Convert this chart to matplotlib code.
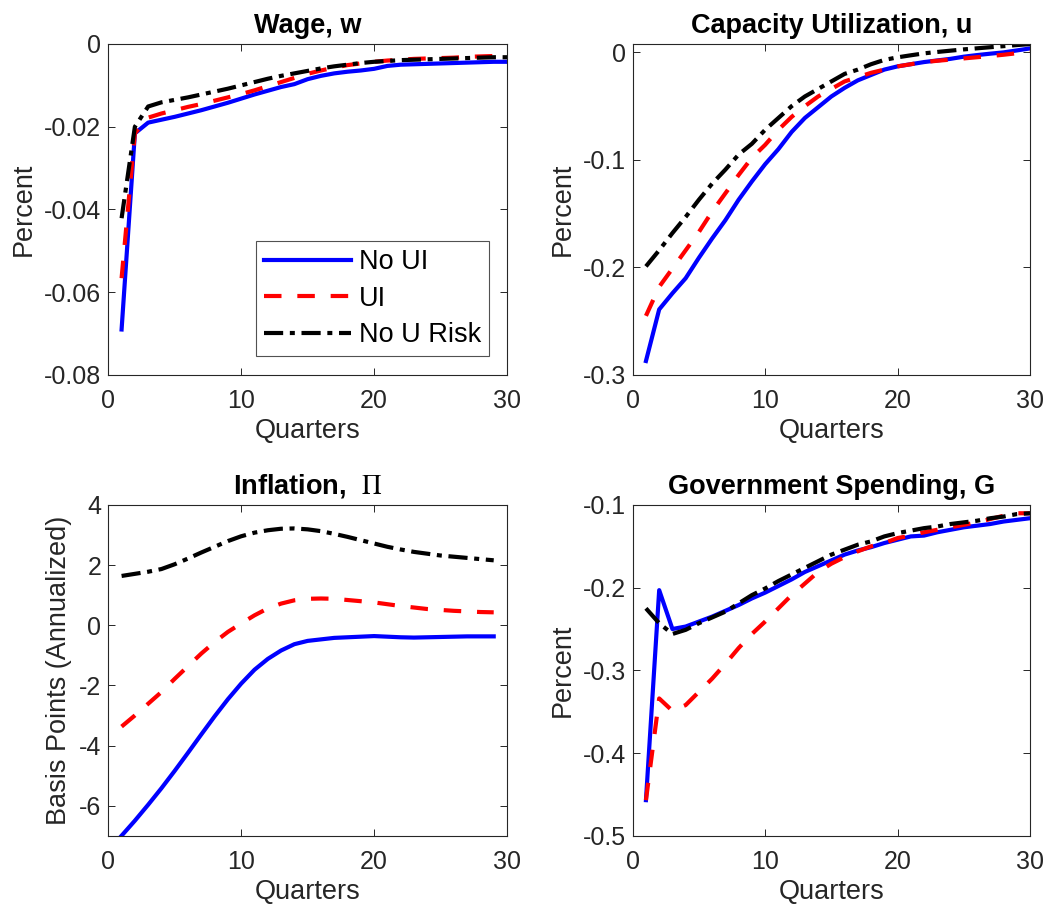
import matplotlib
matplotlib.use("Agg")
import matplotlib.pyplot as plt
from matplotlib.ticker import FuncFormatter

plt.rcParams['font.family'] = ['Liberation Sans', 'DejaVu Sans']
plt.rcParams['axes.unicode_minus'] = False
plt.rcParams['mathtext.fontset'] = 'stix'

quarters30 = list(range(1, 31))
quarters29 = list(range(1, 30))

# Wage, w
wage_no_ui = [-0.0690, -0.0216, -0.0190, -0.0183, -0.0176, -0.0168, -0.0160, -0.0151, -0.0142, -0.0132,
              -0.0122, -0.0113, -0.0104, -0.0097, -0.0085, -0.0077, -0.0071, -0.0067, -0.0064, -0.0060,
              -0.0053, -0.0050, -0.0049, -0.0048, -0.0047, -0.0046, -0.0045, -0.0044, -0.0043, -0.0043]
wage_ui = [-0.0566, -0.0216, -0.0178, -0.0168, -0.0160, -0.0152, -0.0145, -0.0137, -0.0129, -0.0121,
           -0.0112, -0.0102, -0.0092, -0.0082, -0.0072, -0.0064, -0.0057, -0.0051, -0.0047, -0.0043,
           -0.0040, -0.0038, -0.0036, -0.0035, -0.0034, -0.0033, -0.0031, -0.0030, -0.0029, -0.0028]
wage_no_risk = [-0.0421, -0.0200, -0.0151, -0.0141, -0.0135, -0.0129, -0.0122, -0.0115, -0.0108, -0.0100,
                -0.0092, -0.0084, -0.0077, -0.0071, -0.0065, -0.0059, -0.0054, -0.0050, -0.0046, -0.0043,
                -0.0041, -0.0039, -0.0038, -0.0037, -0.0036, -0.0035, -0.0034, -0.0033, -0.0032, -0.0032]

# Capacity Utilization, u
cap_no_ui = [-0.287, -0.239, -0.224, -0.210, -0.191, -0.173, -0.156, -0.137, -0.120, -0.104,
             -0.090, -0.074, -0.061, -0.051, -0.041, -0.033, -0.026, -0.021, -0.016, -0.013,
             -0.011, -0.009, -0.0075, -0.006, -0.004, -0.0025, -0.0012, 0.0, 0.0018, 0.0037]
cap_ui = [-0.245, -0.218, -0.201, -0.184, -0.167, -0.148, -0.131, -0.114, -0.098, -0.086,
          -0.072, -0.060, -0.050, -0.041, -0.034, -0.027, -0.023, -0.019, -0.016, -0.013,
          -0.011, -0.009, -0.0078, -0.0067, -0.0056, -0.0045, -0.0034, -0.0022, -0.0008, 0.0006]
cap_no_risk = [-0.199, -0.184, -0.168, -0.153, -0.137, -0.122, -0.109, -0.095, -0.085, -0.072,
               -0.061, -0.050, -0.041, -0.034, -0.027, -0.020, -0.016, -0.011, -0.007, -0.0046,
               -0.0027, -0.0009, 0.0004, 0.0016, 0.0028, 0.0038, 0.0048, 0.0058, 0.0068, 0.0077]

# Inflation, Pi (basis points, annualized)
infl_no_ui = [-7.0, -6.5, -5.97, -5.42, -4.84, -4.24, -3.63, -3.03, -2.46, -1.94,
              -1.48, -1.12, -0.84, -0.63, -0.52, -0.47, -0.42, -0.40, -0.38, -0.36,
              -0.38, -0.40, -0.41, -0.40, -0.39, -0.38, -0.37, -0.37, -0.37]
infl_ui = [-3.37, -3.0, -2.61, -2.22, -1.78, -1.36, -0.94, -0.56, -0.22, 0.06,
           0.33, 0.56, 0.72, 0.83, 0.88, 0.89, 0.88, 0.84, 0.80, 0.76,
           0.70, 0.64, 0.59, 0.54, 0.51, 0.48, 0.46, 0.44, 0.43]
infl_no_risk = [1.64, 1.71, 1.78, 1.87, 2.03, 2.22, 2.42, 2.61, 2.80, 2.96,
                3.08, 3.16, 3.21, 3.22, 3.19, 3.13, 3.04, 2.94, 2.83, 2.72,
                2.61, 2.52, 2.44, 2.38, 2.32, 2.28, 2.24, 2.20, 2.16]

# Government Spending, G
gov_no_ui = [-0.457, -0.203, -0.250, -0.247, -0.241, -0.235, -0.228, -0.221, -0.213, -0.206,
             -0.198, -0.190, -0.181, -0.174, -0.167, -0.160, -0.155, -0.151, -0.146, -0.142,
             -0.138, -0.137, -0.133, -0.130, -0.127, -0.125, -0.123, -0.120, -0.118, -0.116]
gov_ui = [-0.457, -0.334, -0.349, -0.342, -0.326, -0.310, -0.292, -0.273, -0.256, -0.241,
          -0.225, -0.209, -0.195, -0.181, -0.171, -0.163, -0.156, -0.150, -0.146, -0.140,
          -0.137, -0.133, -0.130, -0.127, -0.124, -0.121, -0.117, -0.113, -0.110, -0.110]
gov_no_risk = [-0.225, -0.243, -0.256, -0.251, -0.243, -0.236, -0.229, -0.219, -0.209, -0.201,
               -0.192, -0.184, -0.176, -0.168, -0.160, -0.154, -0.148, -0.144, -0.138, -0.134,
               -0.131, -0.128, -0.126, -0.123, -0.121, -0.119, -0.116, -0.114, -0.111, -0.110]

labels = ['No UI', 'UI', 'No U Risk']

AX_COLOR = (0.15, 0.15, 0.15)
W, H = 1045, 907
fig = plt.figure(figsize=(W / 100, H / 100), dpi=100)

TICK_FS = 18
LABEL_FS = 19.5
TITLE_FS = 19.5


def make_axes(l, r, t, b):
    return fig.add_axes([l / W, 1 - b / H, (r - l) / W, (b - t) / H])


def fmt(v, p):
    if abs(v) < 1e-12:
        return '0'
    return '%g' % round(v, 6)


def style(ax, title, ylabel, ylim, yticks):
    ax.set_xlim(0, 30)
    ax.set_ylim(*ylim)
    ax.set_xticks([0, 10, 20, 30])
    ax.set_yticks(yticks)
    ax.yaxis.set_major_formatter(FuncFormatter(fmt))
    ax.tick_params(direction='in', length=5, width=0.7, colors=AX_COLOR, labelsize=TICK_FS,
                   top=True, right=True, labelcolor=AX_COLOR)
    ax.tick_params(axis='x', pad=10)
    ax.tick_params(axis='y', pad=5)
    for s in ax.spines.values():
        s.set_color(AX_COLOR)
        s.set_linewidth(0.8)
    ax.set_title(title, fontsize=TITLE_FS, fontweight='bold', color='black', pad=8)
    ax.set_xlabel('Quarters', fontsize=LABEL_FS, color=AX_COLOR, labelpad=4)
    ax.set_ylabel(ylabel, fontsize=LABEL_FS, color=AX_COLOR, labelpad=5)


def plot_three(ax, x, a, b, c):
    l1, = ax.plot(x, a, color='blue', lw=3, solid_joinstyle='round')
    l2, = ax.plot(x, b, color='red', lw=3, dashes=(4.2, 3.8), dash_capstyle='butt')
    l3, = ax.plot(x, c, color='black', lw=3, dashes=(4.6, 1.6, 1.2, 1.6), dash_capstyle='butt')
    return [l1, l2, l3]


ax1 = make_axes(108.3, 507, 44, 375)
lines = plot_three(ax1, quarters30, wage_no_ui, wage_ui, wage_no_risk)
style(ax1, 'Wage, w', 'Percent', (-0.08, 0), [-0.08, -0.06, -0.04, -0.02, 0])
leg = ax1.legend(lines, labels, loc='lower right', bbox_to_anchor=(0.955, 0.057), fontsize=LABEL_FS,
                 handlelength=3.2, handletextpad=0.3, borderpad=0.3, labelspacing=0.38,
                 frameon=True, fancybox=False, borderaxespad=0)
leg.get_frame().set_edgecolor(AX_COLOR)
leg.get_frame().set_linewidth(0.8)

ax2 = make_axes(632.7, 1030, 44, 375)
plot_three(ax2, quarters30, cap_no_ui, cap_ui, cap_no_risk)
style(ax2, 'Capacity Utilization, u', 'Percent', (-0.3, 0.0078), [-0.3, -0.2, -0.1, 0])

ax3 = make_axes(108.3, 507, 505, 835.7)
plot_three(ax3, quarters29, infl_no_ui, infl_ui, infl_no_risk)
style(ax3, r'Inflation,  $\mathrm{\Pi}$', 'Basis Points (Annualized)', (-7, 4), [-6, -4, -2, 0, 2, 4])

ax4 = make_axes(632.7, 1030, 505, 835.7)
plot_three(ax4, quarters30, gov_no_ui, gov_ui, gov_no_risk)
style(ax4, 'Government Spending, G', 'Percent', (-0.5, -0.1), [-0.5, -0.4, -0.3, -0.2, -0.1])

fig.savefig('out.png', dpi=100, facecolor='white')
